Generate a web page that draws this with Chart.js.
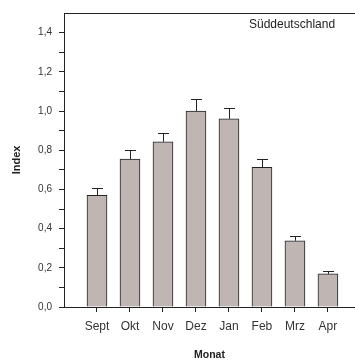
<!DOCTYPE html>
<html>
<head>
<meta charset="utf-8">
<script src="https://cdn.jsdelivr.net/npm/chart.js@4.4.1/dist/chart.umd.min.js"></script>
<style>
  html, body { margin: 0; padding: 0; background: #fff; }
  #wrap { width: 355px; height: 361px; }
</style>
</head>
<body>
<div id="wrap"><canvas id="chart" width="355" height="361"></canvas></div>
<script>
// Werte
const months = ['Sept', 'Okt', 'Nov', 'Dez', 'Jan', 'Feb', 'Mrz', 'Apr'];
const indexValues = [0.57, 0.755, 0.843, 1.0, 0.96, 0.712, 0.338, 0.169];
const errorTops = [0.606, 0.80, 0.89, 1.06, 1.015, 0.754, 0.361, 0.184];
const regionLabel = 'Süddeutschland';

const FONT = "'Liberation Sans', Arial, sans-serif";
const INK = '#222';

// obere Rahmenlinie, Fehlerbalken und Regionsbeschriftung
const extras = {
  id: 'extras',
  afterDatasetsDraw(chart) {
    const { ctx, chartArea, scales } = chart;
    const x = scales.x, y = scales.y;
    ctx.save();
    ctx.strokeStyle = INK;
    ctx.lineWidth = 1;
    ctx.beginPath();
    ctx.moveTo(chartArea.left, chartArea.top + 0.5);
    ctx.lineTo(chartArea.right, chartArea.top + 0.5);
    ctx.stroke();

    months.forEach((m, i) => {
      const px = Math.round(x.getPixelForValue(i + 1)) + 0.5;
      const yTop = y.getPixelForValue(indexValues[i]);
      const yErr = Math.round(y.getPixelForValue(errorTops[i])) + 0.5;
      ctx.beginPath();
      ctx.moveTo(px, yTop);
      ctx.lineTo(px, yErr);
      ctx.moveTo(px - 5.5, yErr);
      ctx.lineTo(px + 5.5, yErr);
      ctx.stroke();
    });

    ctx.fillStyle = INK;
    ctx.font = '12px ' + FONT;
    ctx.textAlign = 'left';
    ctx.textBaseline = 'middle';
    ctx.fillText(regionLabel, 249, 25);
    ctx.restore();
  }
};

new Chart(document.getElementById('chart'), {
  type: 'bar',
  data: {
    datasets: [{
      data: months.map((m, i) => ({ x: i + 1, y: indexValues[i] })),
      backgroundColor: '#bfb6b3',
      borderColor: INK,
      borderWidth: 1,
      barThickness: 20
    }]
  },
  options: {
    responsive: false,
    animation: false,
    layout: { padding: { top: 10, right: 0, left: 0, bottom: 0 } },
    plugins: { legend: { display: false }, tooltip: { enabled: false } },
    scales: {
      x: {
        type: 'linear',
        min: 0,
        max: 8.82,
        offset: false,
        afterFit(scale) { scale.height = 54; },
        border: { display: true, color: INK, width: 1 },
        grid: { display: true, offset: false, drawOnChartArea: false, drawTicks: true, tickLength: 5, color: INK },
        ticks: {
          stepSize: 1,
          includeBounds: false,
          autoSkip: false,
          maxRotation: 0,
          padding: 7,
          color: '#333',
          font: { family: FONT, size: 12 },
          callback: (v) => months[v - 1] ?? null
        },
        title: {
          display: true,
          text: 'Monat',
          color: INK,
          font: { family: FONT, size: 10.5, weight: 'bold' },
          padding: { top: 0, bottom: 0 }
        }
      },
      y: {
        min: 0,
        max: 1.5,
        afterFit(scale) { scale.width = 64; },
        border: { display: true, color: INK, width: 1 },
        grid: { display: true, drawOnChartArea: false, drawTicks: true, tickLength: 5, color: INK },
        ticks: {
          stepSize: 0.1,
          padding: 7,
          color: '#333',
          font: { family: FONT, size: 10 },
          callback: (v) => {
            const k = Math.round(v * 10);
            if (k >= 15) return null;
            return k % 2 === 0 ? (k / 10).toFixed(1).replace('.', ',') : '';
          }
        },
        title: {
          display: true,
          text: 'Index',
          color: INK,
          font: { family: FONT, size: 11, weight: 'bold' },
          padding: { top: 10, bottom: 0 }
        }
      }
    }
  },
  plugins: [extras]
});
</script>
</body>
</html>
